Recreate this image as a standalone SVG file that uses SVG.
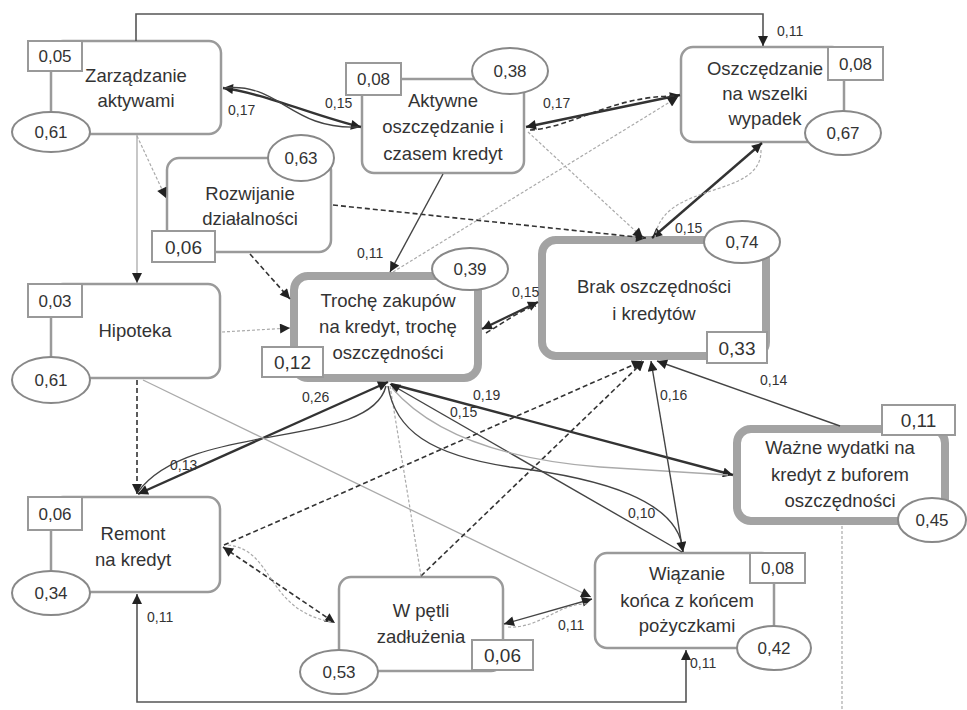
<svg xmlns="http://www.w3.org/2000/svg" width="967" height="710" viewBox="0 0 967 710">
<defs>
<marker id="ah" viewBox="0 0 10 10" refX="10" refY="5" markerWidth="12" markerHeight="10" markerUnits="userSpaceOnUse" orient="auto-start-reverse"><path d="M0,0 L10,5 L0,10 z" fill="#222"/></marker>
</defs>
<style>
.n{fill:#fff;stroke:#9a9a9a;stroke-width:2.5}
.t{fill:#fff;stroke:#a3a3a3;stroke-width:8}
.b{fill:#fff;stroke:#999;stroke-width:2}
.e{fill:#fff;stroke:#888;stroke-width:2}
text{font-family:"Liberation Sans",Arial,sans-serif;fill:#333}
.nt{font-size:18.5px;text-anchor:middle}
.v{font-size:17px;text-anchor:middle}
.vb{font-size:19px;text-anchor:middle}
.c{font-size:14px}
.k{fill:none;stroke:#333;stroke-width:2.4}
.s{fill:none;stroke:#444;stroke-width:1.4}
.d{fill:none;stroke:#333;stroke-width:1.6;stroke-dasharray:5 3}
.g{fill:none;stroke:#aaa;stroke-width:1.2;stroke-dasharray:3 2}
.gs{fill:none;stroke:#aaa;stroke-width:1.3}
.f{fill:none;stroke:#555;stroke-width:1.6}
</style>
<rect width="967" height="710" fill="#fff"/>

<g id="zarzadzanie">
<rect class="n" x="51" y="41" width="170" height="93" rx="12"/>
<rect class="b" x="28" y="41" width="54" height="30"/>
<text class="v" x="55" y="62">0,05</text>
<ellipse class="e" cx="51" cy="132" rx="39" ry="20"/>
<text class="v" x="51" y="138">0,61</text>
<text class="nt" x="136" y="82">Zarządzanie</text>
<text class="nt" x="136" y="107">aktywami</text>
</g>

<g id="aktywne">
<rect class="n" x="362" y="79" width="162" height="94" rx="12"/>
<rect class="b" x="346" y="63" width="55" height="32"/>
<text class="v" x="373.5" y="85">0,08</text>
<ellipse class="e" cx="510" cy="71" rx="38" ry="23"/>
<text class="v" x="510" y="77">0,38</text>
<text class="nt" x="443" y="107">Aktywne</text>
<text class="nt" x="443" y="133">oszczędzanie i</text>
<text class="nt" x="443" y="160">czasem kredyt</text>
</g>

<g id="oszczedzanie">
<rect class="n" x="681" y="47" width="163" height="95" rx="12"/>
<rect class="b" x="828" y="47" width="55" height="33"/>
<text class="v" x="855.5" y="69.5">0,08</text>
<ellipse class="e" cx="843" cy="133" rx="38" ry="22"/>
<text class="v" x="843" y="139">0,67</text>
<text class="nt" x="765" y="75">Oszczędzanie</text>
<text class="nt" x="765" y="100">na wszelki</text>
<text class="nt" x="765" y="125">wypadek</text>
</g>

<g id="rozwijanie">
<rect class="n" x="167" y="158" width="164" height="94" rx="12"/>
<ellipse class="e" cx="301" cy="158" rx="33" ry="23"/>
<text class="v" x="301" y="164">0,63</text>
<rect class="b" x="152" y="231" width="63" height="31"/>
<text class="vb" x="183.5" y="253.5">0,06</text>
<text class="nt" x="250" y="200">Rozwijanie</text>
<text class="nt" x="250" y="225">działalności</text>
</g>

<g id="hipoteka">
<rect class="n" x="51" y="284" width="169" height="94" rx="12"/>
<rect class="b" x="28" y="284" width="54" height="33"/>
<text class="v" x="55" y="306.5">0,03</text>
<ellipse class="e" cx="51" cy="380" rx="39" ry="23"/>
<text class="v" x="51" y="386">0,61</text>
<text class="nt" x="135" y="337">Hipoteka</text>
</g>

<g id="troche">
<rect class="t" x="294" y="276" width="184" height="102" rx="14"/>
<ellipse class="e" cx="470" cy="269" rx="38" ry="21"/>
<text class="v" x="470" y="275">0,39</text>
<rect class="b" x="262" y="347" width="61" height="30"/>
<text class="vb" x="292.5" y="369">0,12</text>
<text class="nt" x="388" y="307">Trochę zakupów</text>
<text class="nt" x="388" y="333">na kredyt, trochę</text>
<text class="nt" x="388" y="359">oszczędności</text>
</g>

<g id="brak">
<rect class="t" x="542" y="240" width="224" height="116" rx="14"/>
<ellipse class="e" cx="742" cy="242" rx="38" ry="21"/>
<text class="v" x="742" y="248">0,74</text>
<rect class="b" x="707" y="332" width="60" height="31"/>
<text class="vb" x="737" y="354.5">0,33</text>
<text class="nt" x="654" y="293">Brak oszczędności</text>
<text class="nt" x="654" y="320">i kredytów</text>
</g>

<g id="wazne">
<rect class="t" x="737" y="429" width="208" height="92" rx="14"/>
<rect class="b" x="882" y="405" width="73" height="30"/>
<text class="vb" x="918.5" y="427">0,11</text>
<ellipse class="e" cx="932" cy="520" rx="34" ry="22"/>
<text class="v" x="932" y="526">0,45</text>
<text class="nt" x="840" y="454">Ważne wydatki na</text>
<text class="nt" x="840" y="481">kredyt z buforem</text>
<text class="nt" x="840" y="507">oszczędności</text>
</g>

<g id="remont">
<rect class="n" x="51" y="497" width="169" height="95" rx="12"/>
<rect class="b" x="28" y="497" width="54" height="33"/>
<text class="v" x="55" y="519.5">0,06</text>
<ellipse class="e" cx="51" cy="593" rx="39" ry="22"/>
<text class="v" x="51" y="599">0,34</text>
<text class="nt" x="133" y="540">Remont</text>
<text class="nt" x="133" y="566">na kredyt</text>
</g>

<g id="wpetli">
<rect class="n" x="339" y="577" width="164" height="94" rx="12"/>
<ellipse class="e" cx="339" cy="672" rx="39" ry="22"/>
<text class="v" x="339" y="678">0,53</text>
<rect class="b" x="472" y="640" width="61" height="30"/>
<text class="vb" x="502.5" y="662">0,06</text>
<text class="nt" x="421" y="617">W pętli</text>
<text class="nt" x="421" y="643">zadłużenia</text>
</g>

<g id="wiazanie">
<rect class="n" x="595" y="553" width="179" height="95" rx="12"/>
<rect class="b" x="750" y="553" width="55" height="30"/>
<text class="v" x="777.5" y="574">0,08</text>
<ellipse class="e" cx="774" cy="648" rx="37" ry="22"/>
<text class="v" x="774" y="654">0,42</text>
<text class="nt" x="687" y="580">Wiązanie</text>
<text class="nt" x="687" y="607">końca z końcem</text>
<text class="nt" x="687" y="632">pożyczkami</text>
</g>

<g id="connectors">
<path class="f" d="M136 41 L136 14 L763 14 L763 46" marker-end="url(#ah)"/>
<path class="f" d="M137 594 L137 702 L686 702 L686 650" marker-start="url(#ah)" marker-end="url(#ah)"/>
<path class="k" d="M223 88 C260 92 320 118 361 127" marker-start="url(#ah)" marker-end="url(#ah)"/>
<path class="s" d="M224 88 C280 82 290 130 358 127"/>
<path class="g" d="M137 136 L166 198" marker-end="url(#ah)"/>
<path class="gs" d="M137 135 L137 283" marker-end="url(#ah)"/>
<path class="d" d="M250 254 L290 299" marker-end="url(#ah)"/>
<path class="g" d="M222 332 L290 328" marker-end="url(#ah)"/>
<path class="d" d="M333 205 L646 238" marker-end="url(#ah)"/>
<path class="s" d="M443 174 L390 272" marker-end="url(#ah)"/>
<path class="k" d="M526 127 L680 95" marker-start="url(#ah)" marker-end="url(#ah)"/>
<path class="d" d="M530 130 C572 128 610 96 676 96"/>
<path class="g" d="M528 132 L643 238" marker-end="url(#ah)"/>
<path class="g" d="M393 272 L678 97" marker-end="url(#ah)"/>
<path class="k" d="M762 143 L652 238" marker-start="url(#ah)" marker-end="url(#ah)"/>
<path class="g" d="M761 150 C762 200 662 180 655 238"/>
<path class="k" d="M482 329 L538 302" marker-start="url(#ah)" marker-end="url(#ah)"/>
<path class="d" d="M486 333 C505 322 520 310 536 306"/>
<path class="k" d="M388 382 L138 494" marker-start="url(#ah)" marker-end="url(#ah)"/>
<path class="s" d="M386 386 C370 450 190 420 138 492"/>
<path class="d" d="M137 380 L137 494" marker-end="url(#ah)"/>
<path class="gs" d="M143 380 L591 597" marker-end="url(#ah)"/>
<path class="d" d="M223 547 L335 623" marker-start="url(#ah)" marker-end="url(#ah)"/>
<path class="g" d="M228 545 C275 550 265 610 332 622"/>
<path class="d" d="M224 545 L642 361" marker-end="url(#ah)"/>
<path class="d" d="M421 576 L644 361" marker-end="url(#ah)"/>
<path class="g" d="M390 386 L421 576"/>
<path class="k" d="M391 384 L733 475" marker-end="url(#ah)"/>
<path class="s" d="M682 552 L390 384" marker-end="url(#ah)"/>
<path class="s" d="M388 386 C395 430 430 455 510 467 C600 478 680 500 683 552"/>
<path class="gs" d="M392 388 Q450 455 600 467 L728 475"/>
<path class="s" d="M651 361 L683 552" marker-start="url(#ah)" marker-end="url(#ah)"/>
<path class="s" d="M840 426 L657 361" marker-end="url(#ah)"/>
<path class="s" d="M504 624 L592 599" marker-start="url(#ah)" marker-end="url(#ah)"/>
<path class="g" d="M508 627 C540 629 560 602 588 604"/>
<path class="g" d="M842 526 L842 710"/>
</g>

<g id="labels">
<text class="c" x="777" y="36">0,11</text>
<text class="c" x="228" y="115">0,17</text>
<text class="c" x="325" y="108">0,15</text>
<text class="c" x="543" y="108">0,17</text>
<text class="c" x="357" y="258">0,11</text>
<text class="c" x="512" y="297">0,15</text>
<text class="c" x="675" y="233">0,15</text>
<text class="c" x="302" y="402">0,26</text>
<text class="c" x="170" y="470">0,13</text>
<text class="c" x="473" y="400">0,19</text>
<text class="c" x="450" y="417">0,15</text>
<text class="c" x="660" y="400">0,16</text>
<text class="c" x="628" y="518">0,10</text>
<text class="c" x="760" y="385">0,14</text>
<text class="c" x="558" y="630">0,11</text>
<text class="c" x="147" y="622">0,11</text>
<text class="c" x="690" y="668">0,11</text>
</g>
</svg>
